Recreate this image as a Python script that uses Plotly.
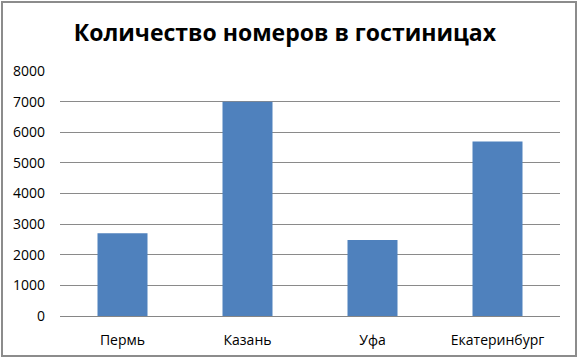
import plotly.graph_objects as go

cities = ["Пермь", "Казань", "Уфа", "Екатеринбург"]
rooms = [2700, 7000, 2480, 5700]
y_ticks = [0, 1000, 2000, 3000, 4000, 5000, 6000, 7000, 8000]
title_text = "Количество номеров в гостиницах"

fig = go.Figure(go.Bar(x=cities, y=rooms, marker=dict(color="#4F81BD", line=dict(width=0)), width=0.4))

L, R, T, B = 60, 19, 71, 43
W, H = 579, 359
pw, ph = W - L - R, H - T - B

fig.update_layout(
    width=W, height=H,
    margin=dict(l=L, r=R, t=T, b=B),
    paper_bgcolor="white", plot_bgcolor="white",
    showlegend=False,
    title=dict(text="<b>" + title_text + "</b>", x=0.492, xref="container", xanchor="center",
               y=(H - 33) / H, yanchor="middle",
               font=dict(family="Open Sans", size=23, color="black")),
    font=dict(family="Open Sans", size=14, color="black"),
    bargap=0.6,
    xaxis=dict(showline=True, linecolor="#868686", linewidth=1, ticks="", showgrid=False,
               tickfont=dict(size=14), ticklabelstandoff=11, automargin=False),
    yaxis=dict(range=[0, 8000], tickvals=y_ticks, showgrid=True, gridcolor="#8a8a8a", gridwidth=1,
               zeroline=False, showline=False, ticks="", tickfont=dict(size=14), ticklabelstandoff=14,
               automargin=False),
    shapes=[dict(type="rect", xref="paper", yref="paper",
                 x0=(2 - L) / pw, x1=(W - 3 - L) / pw,
                 y0=-(H - 3 - (T + ph)) / ph, y1=(T + ph - 2) / ph,
                 line=dict(color="#8c8c8c", width=2), fillcolor="rgba(0,0,0,0)", layer="above")],
)

fig.write_html("out.html")
